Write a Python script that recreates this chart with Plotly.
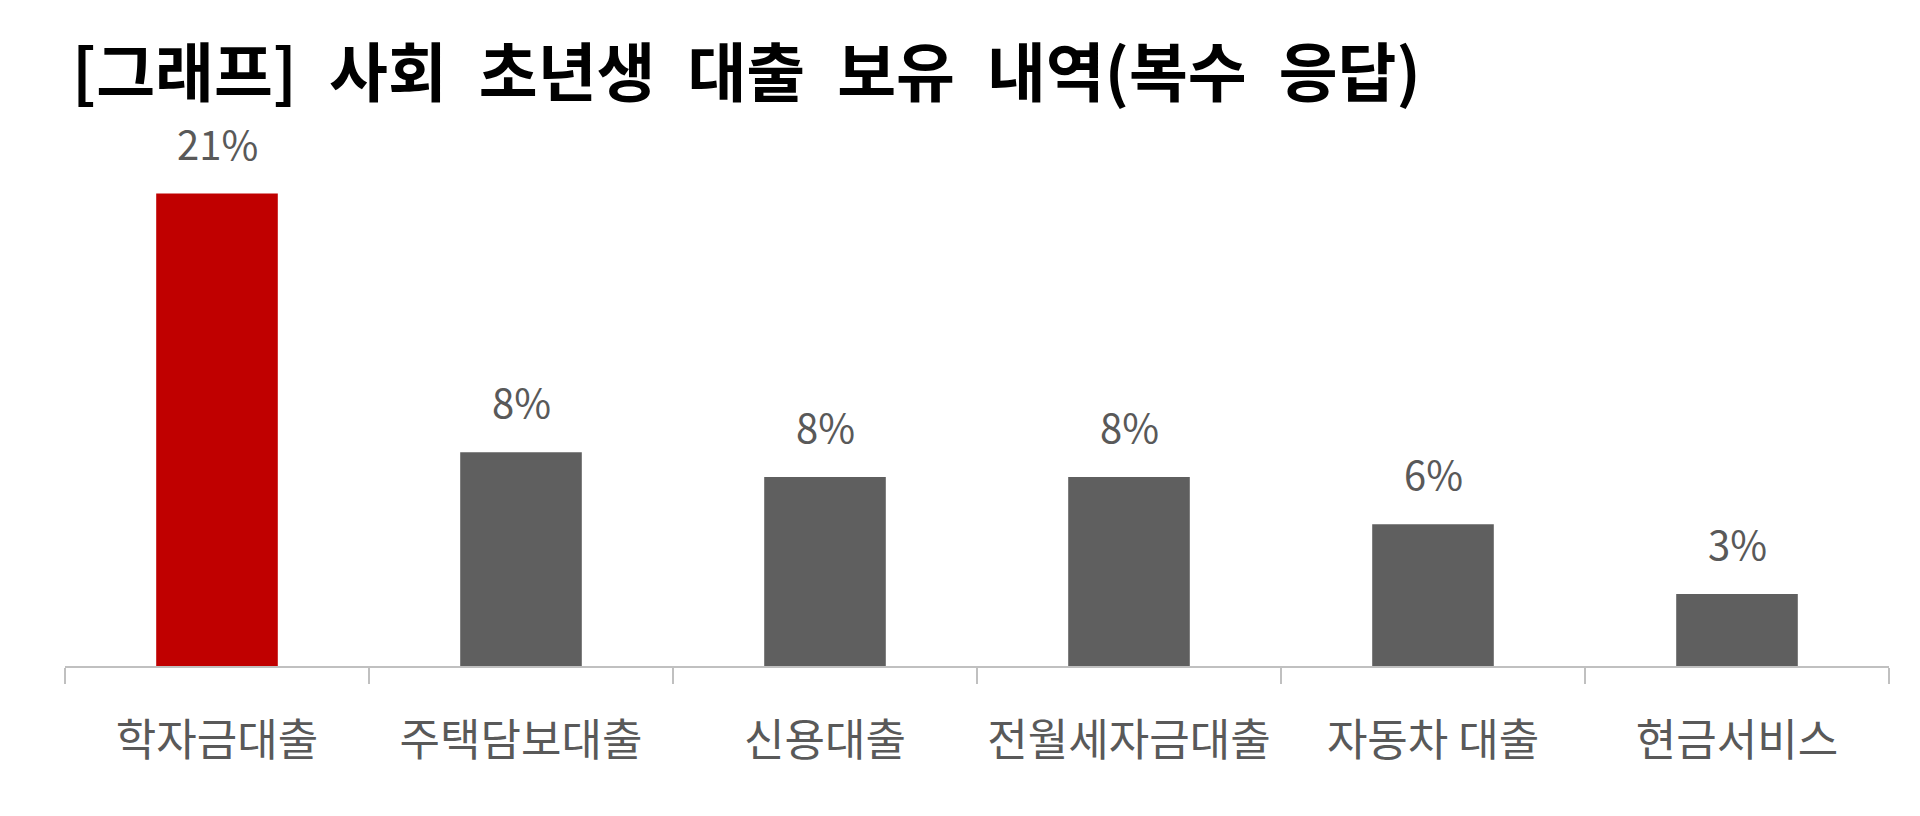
import plotly.graph_objects as go

# 데이터
categories = ['학자금대출', '주택담보대출', '신용대출', '전월세자금대출', '자동차 대출', '현금서비스']
values = [21.0, 9.5, 8.4, 8.4, 6.3, 3.2]  # 막대 높이
value_labels = ['21%', '8%', '8%', '8%', '6%', '3%']
bar_colors = ['#c00000', '#5f5f5f', '#5f5f5f', '#5f5f5f', '#5f5f5f', '#5f5f5f']

FONT = 'Noto Sans CJK KR'
SP = '\u2002'  # 제목의 넓은 띄어쓰기

fig = go.Figure()
fig.add_trace(go.Bar(x=categories, y=values, marker=dict(color=bar_colors, line=dict(width=0)),
                     width=0.4, hoverinfo='skip'))

# 막대 위 값 표시
for c, v, t in zip(categories, values, value_labels):
    fig.add_annotation(x=c, y=v, text=t, showarrow=False, yanchor='middle', yshift=51,
                       font=dict(family=FONT, size=40, color='#595959'))

title = SP.join(['[그래프]', '사회', '초년생', '대출', '보유', '내역(복수', '응답)'])

fig.update_layout(
    width=1920, height=816,
    margin=dict(l=57, r=39, t=118, b=158),
    paper_bgcolor='white', plot_bgcolor='white',
    showlegend=False,
    title=dict(text=title,
               x=64 / 1920, xanchor='left', xref='container',
               y=1 - 66 / 816, yanchor='middle', yref='container',
               font=dict(family=FONT, size=64, color='black', weight='bold')),
)

fig.update_xaxes(showline=True, linecolor='#c0c0c0', linewidth=2,
                 ticks='outside', tickson='boundaries', ticklen=16, tickcolor='#c0c0c0', tickwidth=2,
                 ticklabelstandoff=35,
                 tickfont=dict(family=FONT, size=44, color='#595959'),
                 showgrid=False, range=[-0.5, 5.5])
fig.update_yaxes(visible=False, range=[0, 24], showgrid=False)

fig.write_html("out.html")
